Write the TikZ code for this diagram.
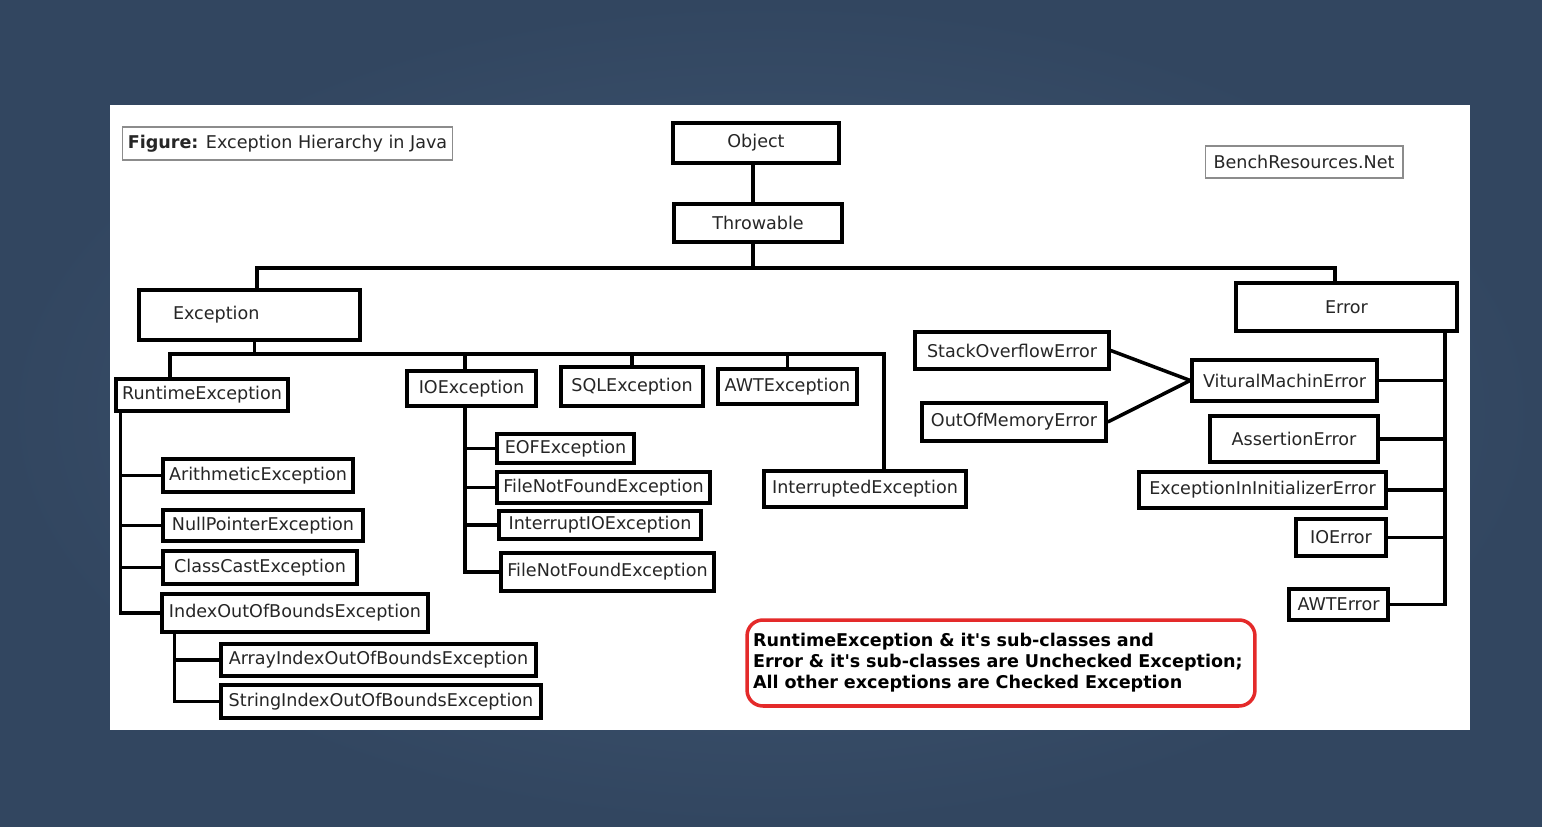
\documentclass[tikz,border=0pt]{standalone}
\usepackage{fontspec}
\setmainfont{DejaVu Sans}
\usetikzlibrary{positioning}
\definecolor{slate}{RGB}{66,90,118}
\definecolor{slatedark}{RGB}{50,70,96}
\definecolor{notered}{RGB}{228,42,42}

\begin{document}
\begin{tikzpicture}[x=0.02cm, y=-0.02cm,
  every node/.style={font=\fontsize{10}{12}\selectfont, text=black!85},
  box/.style={draw, line width=2pt, inner sep=2pt},
  tag/.style={draw=black!45, line width=0.6pt, inner sep=2pt},
  wire/.style={line width=2pt}]
\shade[inner color=slate, outer color=slatedark] (0,0) rectangle (1542,827);
\useasboundingbox (0,0) rectangle (1542,827);
\fill[white] (110,105) rectangle (1470,730);

\node[tag, minimum width=6.62cm, minimum height=0.66cm] (fig) at (287.5,143.5) {\textbf{Figure:} Exception Hierarchy in Java};
\node[tag, minimum width=3.96cm, minimum height=0.64cm] (web) at (1304,162) {BenchResources.Net};

\node[box, minimum width=3.32cm, minimum height=0.8cm] (obj) at (756,143) {Object};
\node[box, minimum width=3.36cm, minimum height=0.76cm] (thr) at (758,223) {Throwable};
\node[box, minimum height=1cm, text width=3.06cm, align=left, inner xsep=0.68cm] (exc) at (249.5,315) {Exception};
\node[box, minimum width=4.42cm, minimum height=0.96cm] (err) at (1346.5,307) {Error};

\node[box, minimum width=3.44cm, minimum height=0.64cm] (rte) at (202,395) {RuntimeException};
\node[box, minimum width=2.58cm, minimum height=0.7cm] (ioe) at (471.5,388.5) {IOException};
\node[box, minimum width=2.84cm, minimum height=0.78cm] (sql) at (632,386.5) {SQLException};
\node[box, minimum width=2.78cm, minimum height=0.7cm] (awt) at (787.5,386.5) {AWTException};
\node[box, minimum width=4.04cm, minimum height=0.72cm] (intr) at (865,489) {InterruptedException};

\node[box, minimum width=3.8cm, minimum height=0.66cm] (ari) at (258,475.5) {ArithmeticException};
\node[box, minimum width=4cm, minimum height=0.62cm] (npe) at (263,525.5) {NullPointerException};
\node[box, minimum width=3.88cm, minimum height=0.66cm] (cce) at (260,567.5) {ClassCastException};
\node[box, minimum width=5.32cm, minimum height=0.76cm] (iob) at (295,613) {IndexOutOfBoundsException};
\node[box, minimum width=6.3cm, minimum height=0.64cm] (aio) at (378.5,660) {ArrayIndexOutOfBoundsException};
\node[box, minimum width=6.4cm, minimum height=0.66cm] (sio) at (381,701.5) {StringIndexOutOfBoundsException};

\node[box, minimum width=2.74cm, minimum height=0.58cm] (eof) at (565.5,448.5) {EOFException};
\node[box, minimum width=4.26cm, minimum height=0.62cm] (fnf) at (603.5,487.5) {FileNotFoundException};
\node[box, minimum width=4.04cm, minimum height=0.56cm] (iio) at (600,525) {InterruptIOException};
\node[box, minimum width=4.26cm, minimum height=0.76cm] (fnfb) at (607.5,572) {FileNotFoundException};

\node[box, minimum width=3.88cm, minimum height=0.74cm] (soe) at (1012,350.5) {StackOverflowError};
\node[box, minimum width=3.68cm, minimum height=0.76cm] (oom) at (1014,422) {OutOfMemoryError};
\node[box, minimum width=3.7cm, minimum height=0.82cm] (vme) at (1284.5,380.5) {VituralMachinError};
\node[box, minimum width=3.36cm, minimum height=0.92cm] (ase) at (1294,439) {AssertionError};
\node[box, minimum width=4.94cm, minimum height=0.72cm] (eie) at (1262.5,490) {ExceptionInInitializerError};
\node[box, minimum width=1.8cm, minimum height=0.74cm] (ioerr) at (1341,537.5) {IOError};
\node[box, minimum width=1.98cm, minimum height=0.62cm] (awterr) at (1338.5,604.5) {AWTError};

\node[draw=notered, line width=2pt, rounded corners=9pt, text width=9.92cm, minimum height=1.72cm,
  inner xsep=0.12cm, align=left, font=\fontsize{10}{11.9}\selectfont\bfseries, text=black] (note) at (1001,663)
  {RuntimeException \& it\textquotesingle s sub-classes and\\Error \& it\textquotesingle s sub-classes are Unchecked Exception;\\All other exceptions are Checked Exception};

\coordinate (tbus) at (753,268);
\coordinate (ebus) at (884,354);
\draw[wire] ([xshift=-0.06cm]obj.south) -- ([xshift=-0.06cm]obj.south |- thr.north);
\draw[wire] (thr.south -| tbus) -- (tbus);
\draw[wire] ([xshift=0.15cm]exc.north) |- (tbus) -| ([xshift=-0.23cm]err.north);
\draw[wire] ([xshift=0.1cm]exc.south) -- ([xshift=0.1cm]exc.south |- ebus);
\draw[wire] ([xshift=-0.64cm]rte.north) |- (ebus) -- (ebus |- intr.north);
\draw[wire] ([xshift=-0.13cm]ioe.north) -- ([xshift=-0.13cm]ioe.north |- ebus);
\draw[wire] (sql.north) -- (sql.north |- ebus);
\draw[wire] (awt.north) -- (awt.north |- ebus);
\foreach \c in {ari,npe,cce,iob}
  \draw[wire] ([xshift=0.12cm]rte.south west) |- (\c.west);
\foreach \c in {aio,sio}
  \draw[wire] ([xshift=0.28cm]iob.south west) |- (\c.west);
\foreach \c in {eof,fnf,iio,fnfb}
  \draw[wire] ([xshift=-0.13cm]ioe.south) |- (\c.west);
\foreach \c in {vme,ase,eie,ioerr,awterr}
  \draw[wire] ([xshift=-0.28cm]err.south east) |- (\c.east);
\draw[wire] (soe.east) -- (vme.west);
\draw[wire] (oom.east) -- (vme.west);
\end{tikzpicture}
\end{document}
